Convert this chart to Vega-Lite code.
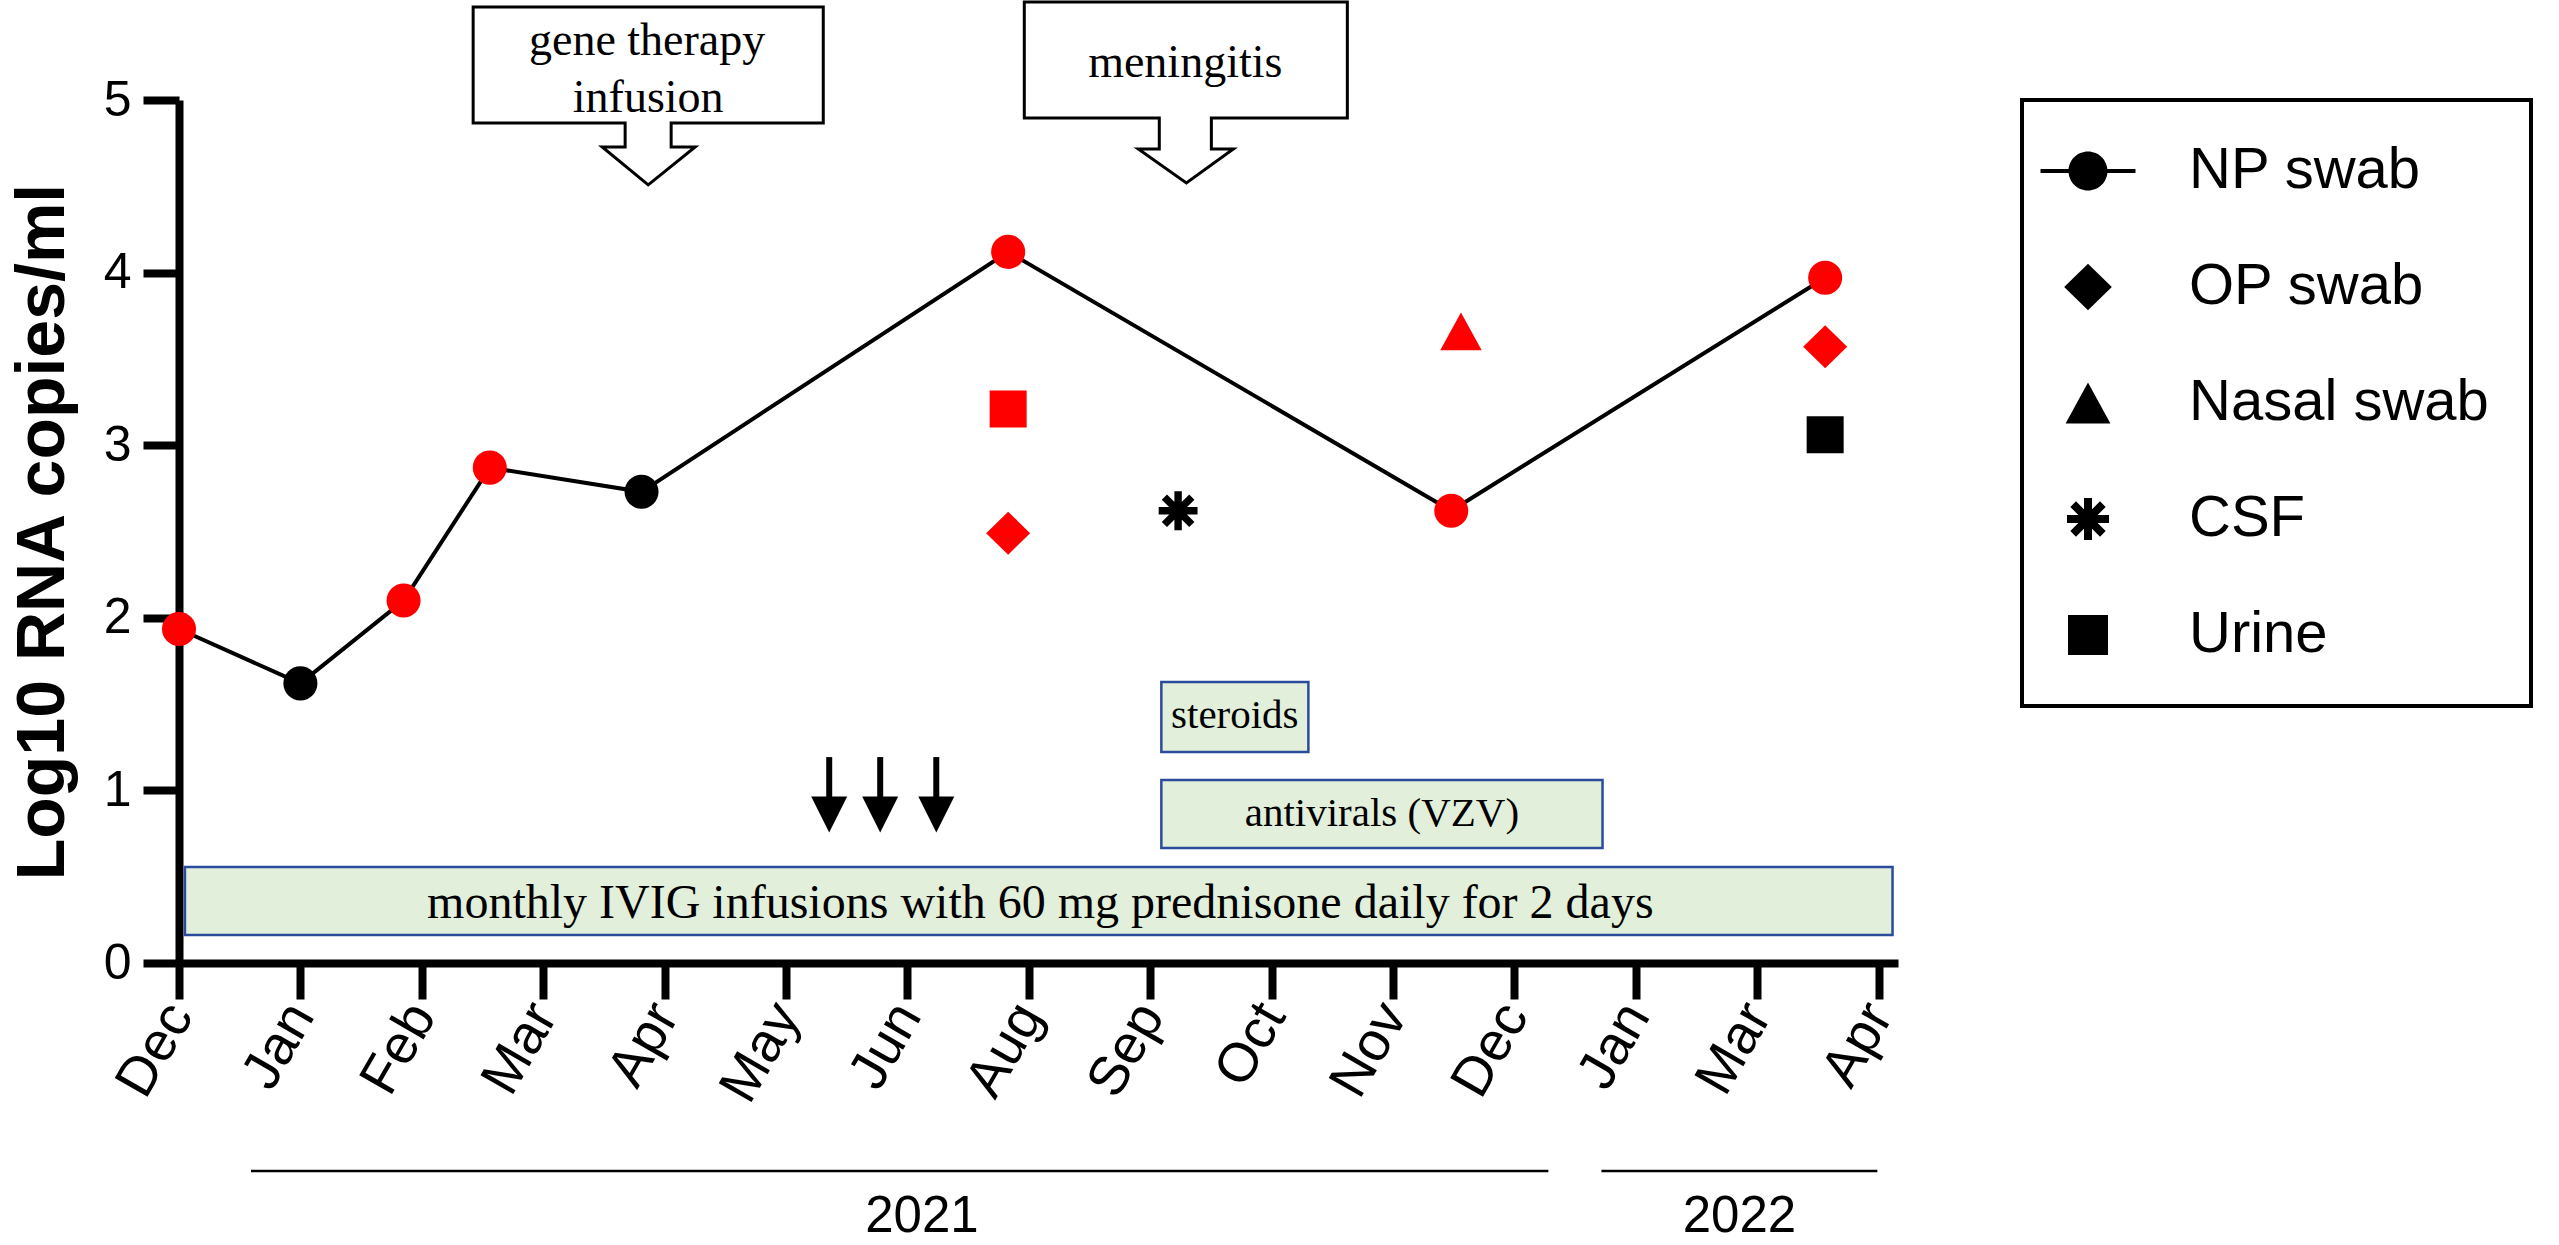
{
  "$schema": "https://vega.github.io/schema/vega-lite/v6.json",
  "width": 1719,
  "height": 863,
  "autosize": "none",
  "padding": {"left": 179, "top": 100, "right": 661, "bottom": 282},
  "background": "white",
  "config": {"view": {"stroke": null}, "legend": {"strokeWidth": 4, "strokeColor": "black"}},
  "datasets": {
    "points": [
      {"t": 0, "v": 1.935, "type": "NP swab", "col": "red"},
      {"t": 1.0, "v": 1.62, "type": "NP swab", "col": "black"},
      {"t": 1.85, "v": 2.10, "type": "NP swab", "col": "red"},
      {"t": 2.56, "v": 2.87, "type": "NP swab", "col": "red"},
      {"t": 3.81, "v": 2.73, "type": "NP swab", "col": "black"},
      {"t": 6.83, "v": 4.12, "type": "NP swab", "col": "red"},
      {"t": 10.48, "v": 2.62, "type": "NP swab", "col": "red"},
      {"t": 13.56, "v": 3.97, "type": "NP swab", "col": "red"},
      {"t": 6.83, "v": 2.49, "type": "OP swab", "col": "red"},
      {"t": 13.56, "v": 3.57, "type": "OP swab", "col": "red"},
      {"t": 10.56, "v": 3.66, "type": "Nasal swab", "col": "red"},
      {"t": 8.23, "v": 2.62, "type": "CSF", "col": "black"},
      {"t": 6.83, "v": 3.21, "type": "Urine", "col": "red"},
      {"t": 13.56, "v": 3.06, "type": "Urine", "col": "black"}
    ],
    "boxes": [
      {"name": "steroids", "x1": 8.092, "x2": 9.303, "y1": 1.628, "y2": 1.222},
      {"name": "antivirals", "x1": 8.092, "x2": 11.726, "y1": 1.060, "y2": 0.666},
      {"name": "ivig", "x1": 0.049, "x2": 14.115, "y1": 0.556, "y2": 0.162}
    ],
    "boxtext": [
      {"label": "steroids", "x": 8.697, "y": 1.362, "fs": "small"},
      {"label": "antivirals  (VZV)", "x": 9.909, "y": 0.794, "fs": "small"},
      {"label": "monthly IVIG infusions with 60 mg prednisone daily for 2 days", "x": 7.095, "y": 0.261, "fs": "big"}
    ],
    "callouts": [
      {"c": "gene", "o": 1, "x": 2.423, "y": 5.539},
      {"c": "gene", "o": 2, "x": 5.307, "y": 5.539},
      {"c": "gene", "o": 3, "x": 5.307, "y": 4.867},
      {"c": "gene", "o": 4, "x": 4.054, "y": 4.867},
      {"c": "gene", "o": 5, "x": 4.054, "y": 4.728},
      {"c": "gene", "o": 6, "x": 4.252, "y": 4.728},
      {"c": "gene", "o": 7, "x": 3.865, "y": 4.508},
      {"c": "gene", "o": 8, "x": 3.486, "y": 4.728},
      {"c": "gene", "o": 9, "x": 3.675, "y": 4.728},
      {"c": "gene", "o": 10, "x": 3.675, "y": 4.867},
      {"c": "gene", "o": 11, "x": 2.423, "y": 4.867},
      {"c": "gene", "o": 12, "x": 2.423, "y": 5.539},
      {"c": "men", "o": 1, "x": 6.963, "y": 5.568},
      {"c": "men", "o": 2, "x": 9.624, "y": 5.568},
      {"c": "men", "o": 3, "x": 9.624, "y": 4.896},
      {"c": "men", "o": 4, "x": 8.504, "y": 4.896},
      {"c": "men", "o": 5, "x": 8.504, "y": 4.716},
      {"c": "men", "o": 6, "x": 8.685, "y": 4.716},
      {"c": "men", "o": 7, "x": 8.298, "y": 4.519},
      {"c": "men", "o": 8, "x": 7.902, "y": 4.716},
      {"c": "men", "o": 9, "x": 8.075, "y": 4.716},
      {"c": "men", "o": 10, "x": 8.075, "y": 4.896},
      {"c": "men", "o": 11, "x": 6.963, "y": 4.896},
      {"c": "men", "o": 12, "x": 6.963, "y": 5.568}
    ],
    "callouttext": [
      {"label": "gene therapy", "x": 3.856, "y": 5.263},
      {"label": "infusion", "x": 3.865, "y": 4.930},
      {"label": "meningitis", "x": 8.289, "y": 5.133}
    ],
    "arrows": [
      {"x": 5.356, "ytop": 1.193, "ybot": 0.95, "yhead": 0.860},
      {"x": 5.776, "ytop": 1.193, "ybot": 0.95, "yhead": 0.860},
      {"x": 6.238, "ytop": 1.193, "ybot": 0.95, "yhead": 0.860}
    ],
    "years": [
      {"label": "2021", "x1": 0.593, "x2": 11.28, "y": -1.205, "xt": 6.12, "yt": -1.472},
      {"label": "2022", "x1": 11.717, "x2": 13.99, "y": -1.205, "xt": 12.854, "yt": -1.472}
    ]
  },
  "layer": [
    {
      "data": {"name": "boxes"},
      "mark": {"type": "rect", "fill": "#E2EFDA", "stroke": "#2B4C9B", "strokeWidth": 2.5},
      "encoding": {
        "x": {"field": "x1", "type": "quantitative", "scale": {"domain": [0, 14.16], "nice": false, "zero": false},
          "axis": {"values": [0,1,2,3,4,5,6,7,8,9,10,11,12,13,14],
            "labelExpr": "['Dec','Jan','Feb','Mar','Apr','May','Jun','Aug','Sep','Oct','Nov','Dec','Jan','Mar','Apr'][datum.value]",
            "labelAngle": -60, "labelAlign": "right", "labelBaseline": "middle",
            "labelFont": "Liberation Sans", "labelFontSize": 55, "labelColor": "black", "labelPadding": 8,
            "labelFlush": false, "labelOverlap": false, "labelBound": false,
            "tickSize": 36, "tickWidth": 8, "tickColor": "black",
            "domainColor": "black", "domainWidth": 8, "grid": false, "title": null}},
        "x2": {"field": "x2"},
        "y": {"field": "y1", "type": "quantitative", "scale": {"domain": [0, 5], "nice": false, "zero": false},
          "axis": {"values": [0,1,2,3,4,5], "format": "d", "labelFont": "Liberation Sans", "labelFontSize": 50, "labelColor": "black",
            "labelPadding": 12, "labelFlush": false, "labelOverlap": false,
            "tickSize": 36, "tickWidth": 8, "tickColor": "black",
            "domainColor": "black", "domainWidth": 8, "grid": false,
            "title": "Log10 RNA copies/ml", "titleFont": "Liberation Sans", "titleFontSize": 68,
            "titleFontWeight": "bold", "titleColor": "black", "titlePadding": 26}},
        "y2": {"field": "y2"}
      }
    },
    {
      "data": {"name": "boxtext"},
      "mark": {"type": "text", "font": "Liberation Serif", "color": "black", "align": "center", "baseline": "alphabetic"},
      "encoding": {
        "x": {"field": "x", "type": "quantitative", "scale": {"domain": [0, 14.16], "nice": false, "zero": false}},
        "y": {"field": "y", "type": "quantitative", "scale": {"domain": [0, 5], "nice": false, "zero": false}},
        "text": {"field": "label"},
        "size": {"field": "fs", "type": "nominal", "scale": {"domain": ["small", "big"], "range": [41, 48]}, "legend": null}
      }
    },
    {
      "data": {"name": "callouts"},
      "mark": {"type": "line", "color": "black", "strokeWidth": 3, "strokeJoin": "miter", "strokeCap": "square"},
      "encoding": {
        "x": {"field": "x", "type": "quantitative", "scale": {"domain": [0, 14.16], "nice": false, "zero": false}},
        "y": {"field": "y", "type": "quantitative", "scale": {"domain": [0, 5], "nice": false, "zero": false}},
        "detail": {"field": "c"},
        "order": {"field": "o", "type": "quantitative"}
      }
    },
    {
      "data": {"name": "callouttext"},
      "mark": {"type": "text", "font": "Liberation Serif", "fontSize": 46, "color": "black", "align": "center", "baseline": "alphabetic"},
      "encoding": {
        "x": {"field": "x", "type": "quantitative", "scale": {"domain": [0, 14.16], "nice": false, "zero": false}},
        "y": {"field": "y", "type": "quantitative", "scale": {"domain": [0, 5], "nice": false, "zero": false}},
        "text": {"field": "label"}
      }
    },
    {
      "data": {"name": "arrows"},
      "mark": {"type": "rule", "color": "black", "strokeWidth": 6},
      "encoding": {
        "x": {"field": "x", "type": "quantitative", "scale": {"domain": [0, 14.16], "nice": false, "zero": false}},
        "y": {"field": "ytop", "type": "quantitative", "scale": {"domain": [0, 5], "nice": false, "zero": false}},
        "y2": {"field": "ybot"}
      }
    },
    {
      "data": {"name": "arrows"},
      "mark": {"type": "point", "filled": true, "color": "black", "opacity": 1, "strokeWidth": 0, "size": 1296, "shape": "M-1,-1L1,-1L0,1Z"},
      "encoding": {
        "x": {"field": "x", "type": "quantitative", "scale": {"domain": [0, 14.16], "nice": false, "zero": false}},
        "y": {"field": "yhead", "type": "quantitative", "scale": {"domain": [0, 5], "nice": false, "zero": false}}
      }
    },
    {
      "data": {"name": "years"},
      "mark": {"type": "rule", "color": "black", "strokeWidth": 2.5},
      "encoding": {
        "x": {"field": "x1", "type": "quantitative", "scale": {"domain": [0, 14.16], "nice": false, "zero": false}},
        "x2": {"field": "x2"},
        "y": {"field": "y", "type": "quantitative", "scale": {"domain": [0, 5], "nice": false, "zero": false}}
      }
    },
    {
      "data": {"name": "years"},
      "mark": {"type": "text", "font": "Liberation Sans", "fontSize": 51, "color": "black", "align": "center", "baseline": "middle"},
      "encoding": {
        "x": {"field": "xt", "type": "quantitative", "scale": {"domain": [0, 14.16], "nice": false, "zero": false}},
        "y": {"field": "yt", "type": "quantitative", "scale": {"domain": [0, 5], "nice": false, "zero": false}},
        "text": {"field": "label"}
      }
    },
    {
      "data": {"name": "points"},
      "transform": [{"filter": "datum.type === 'NP swab'"}],
      "mark": {"type": "line", "color": "black", "strokeWidth": 4},
      "encoding": {
        "x": {"field": "t", "type": "quantitative", "scale": {"domain": [0, 14.16], "nice": false, "zero": false}},
        "y": {"field": "v", "type": "quantitative", "scale": {"domain": [0, 5], "nice": false, "zero": false}}
      }
    },
    {
      "data": {"name": "points"},
      "transform": [{"filter": "datum.type === 'NP swab'"}],
      "mark": {"type": "point", "filled": true, "opacity": 1, "strokeWidth": 0, "size": 1369,
        "shape": "M-0.92,0A0.92,0.92 0 1,1 0.92,0A0.92,0.92 0 1,1 -0.92,0Z"},
      "encoding": {
        "x": {"field": "t", "type": "quantitative", "scale": {"domain": [0, 14.16], "nice": false, "zero": false}},
        "y": {"field": "v", "type": "quantitative", "scale": {"domain": [0, 5], "nice": false, "zero": false}},
        "color": {"field": "col", "type": "nominal", "scale": {"domain": ["red", "black"], "range": ["#FF0000", "#000000"]}, "legend": null}
      }
    },
    {
      "data": {"name": "points"},
      "transform": [{"filter": "datum.type !== 'NP swab'"}],
      "mark": {"type": "point", "filled": true, "opacity": 1, "strokeWidth": 0, "size": 1369},
      "encoding": {
        "x": {"field": "t", "type": "quantitative", "scale": {"domain": [0, 14.16], "nice": false, "zero": false}},
        "y": {"field": "v", "type": "quantitative", "scale": {"domain": [0, 5], "nice": false, "zero": false}},
        "color": {"field": "col", "type": "nominal", "scale": {"domain": ["red", "black"], "range": ["#FF0000", "#000000"]}, "legend": null},
        "shape": {"field": "type", "type": "nominal",
          "scale": {"domain": ["NP swab", "OP swab", "Nasal swab", "CSF", "Urine"],
            "range": [
              "M-2.375,-0.1H2.375V0.1H-2.375ZM-0.975,0A0.975,0.975 0 1,1 0.975,0A0.975,0.975 0 1,1 -0.975,0Z",
              "M0,-1.16L1.19,0L0,1.16L-1.19,0Z",
              "M0,-1.02L1.12,1.02L-1.12,1.02Z",
              "M-0.2,-1.05H0.2V1.05H-0.2ZM-1.05,-0.2H1.05V0.2H-1.05ZM-0.883,-0.601L-0.601,-0.883L0.883,0.601L0.601,0.883ZM-0.601,0.883L-0.883,0.601L0.601,-0.883L0.883,-0.601Z",
              "M-1,-1H1V1H-1Z"
            ]},
          "legend": {
            "title": null, "orient": "right", "offset": 124, "padding": 42,
            "strokeColor": "black",
            "labelFont": "Liberation Sans", "labelFontSize": 58, "labelColor": "black", "labelLimit": 1000,
            "symbolSize": 1600, "rowPadding": 58, "symbolOffset": -5, "labelOffset": 72,
            "symbolStrokeWidth": 0, "symbolFillColor": "black", "symbolOpacity": 1,
            "values": ["NP swab", "OP swab", "Nasal swab", "CSF", "Urine"]
          }
        }
      }
    }
  ]
}
